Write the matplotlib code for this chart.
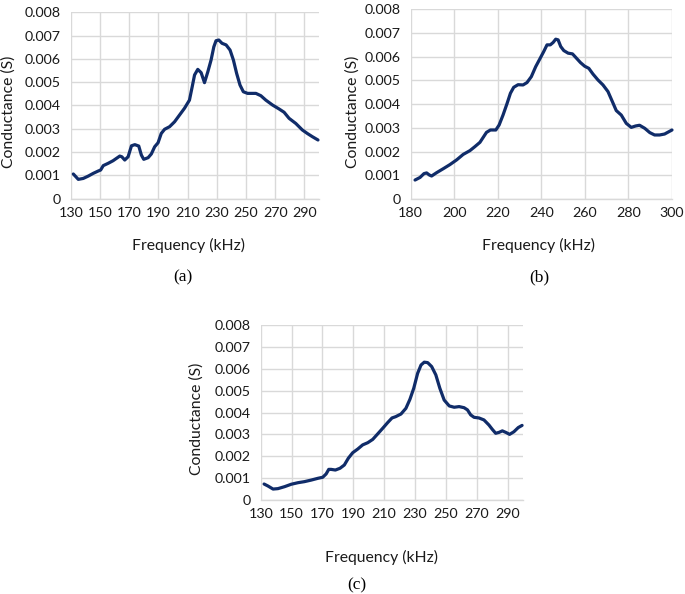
import matplotlib
matplotlib.use("Agg")
import matplotlib.pyplot as plt

# panel (a)
freq_a = [131.8, 135.2, 138.6, 142.0, 145.5, 148.9, 150.5, 152.3, 155.7, 159.0,
          163.6, 165.0, 167.0, 169.3, 171.6, 173.9, 176.6, 178.4, 180.0, 183.0,
          185.2, 187.5, 189.8, 192.0, 194.3, 197.7, 201.1, 204.5, 207.9, 211.3,
          213.2, 214.8, 217.0, 219.3, 221.6, 223.9, 226.1, 228.0, 229.5, 231.4,
          233.6, 236.4, 239.1, 241.4, 243.6, 245.9, 248.2, 251.1, 256.8, 260.2,
          263.6, 268.2, 272.7, 276.1, 279.5, 284.1, 288.6, 292.0, 295.5, 299.3]
cond_a = [1.06, 0.83, 0.87, 0.97, 1.09, 1.19, 1.23, 1.42, 1.52, 1.63,
          1.83, 1.80, 1.66, 1.80, 2.27, 2.32, 2.26, 1.87, 1.69, 1.76,
          1.92, 2.23, 2.40, 2.80, 2.98, 3.09, 3.30, 3.59, 3.88, 4.23,
          4.81, 5.31, 5.55, 5.41, 4.98, 5.45, 5.95, 6.52, 6.78, 6.81,
          6.67, 6.60, 6.38, 5.95, 5.38, 4.88, 4.59, 4.52, 4.52, 4.42,
          4.23, 4.02, 3.85, 3.71, 3.45, 3.23, 2.95, 2.80, 2.66, 2.52]

# panel (b)
freq_b = [182.0, 184.3, 186.1, 187.3, 188.6, 189.6, 191.9, 195.0, 198.0, 201.1,
          204.1, 207.2, 209.5, 211.8, 213.3, 214.8, 216.6, 219.1, 220.6, 222.4,
          224.3, 225.8, 227.3, 229.3, 231.6, 233.4, 235.4, 237.4, 239.2, 241.1,
          242.6, 244.1, 245.4, 246.6, 247.7, 248.9, 250.3, 252.3, 254.3, 256.1,
          258.0, 259.9, 261.8, 263.7, 266.0, 268.3, 270.6, 272.6, 274.4, 276.7,
          279.0, 281.3, 283.3, 285.1, 287.5, 289.8, 292.0, 294.3, 296.6, 300.0]
cond_b = [0.80, 0.91, 1.07, 1.10, 1.01, 0.97, 1.11, 1.28, 1.45, 1.65,
          1.88, 2.04, 2.21, 2.39, 2.60, 2.81, 2.91, 2.91, 3.12, 3.54,
          4.04, 4.46, 4.71, 4.82, 4.81, 4.91, 5.16, 5.58, 5.89, 6.22,
          6.50, 6.50, 6.60, 6.74, 6.71, 6.43, 6.26, 6.15, 6.12, 5.94,
          5.75, 5.60, 5.51, 5.27, 5.02, 4.81, 4.53, 4.11, 3.73, 3.54,
          3.19, 3.02, 3.08, 3.11, 2.98, 2.80, 2.70, 2.70, 2.74, 2.91]

# panel (c)
freq_c = [132.2, 134.7, 138.0, 141.2, 145.5, 149.8, 154.1, 158.4, 162.7, 167.0,
          170.2, 172.4, 174.1, 175.6, 178.4, 181.4, 184.2, 186.8, 189.6, 192.9,
          196.1, 199.4, 202.6, 205.8, 209.1, 212.3, 215.1, 217.5, 220.9, 224.1,
          226.7, 229.2, 231.7, 233.9, 236.0, 238.2, 240.8, 243.5, 246.1, 248.9,
          252.2, 255.4, 258.6, 261.8, 264.0, 266.1, 268.3, 271.5, 274.7, 277.9,
          280.1, 282.3, 284.4, 286.6, 289.2, 291.3, 294.1, 296.9, 299.4]
cond_c = [0.73, 0.64, 0.50, 0.52, 0.61, 0.72, 0.79, 0.84, 0.91, 0.99,
          1.04, 1.19, 1.40, 1.40, 1.37, 1.45, 1.60, 1.91, 2.16, 2.33,
          2.52, 2.62, 2.77, 3.02, 3.28, 3.54, 3.75, 3.81, 3.93, 4.19,
          4.60, 5.11, 5.79, 6.17, 6.30, 6.28, 6.10, 5.72, 5.11, 4.57,
          4.30, 4.24, 4.27, 4.22, 4.12, 3.89, 3.78, 3.75, 3.66, 3.43,
          3.23, 3.05, 3.09, 3.16, 3.08, 3.00, 3.12, 3.31, 3.41]

y_ticks = [0, 0.001, 0.002, 0.003, 0.004, 0.005, 0.006, 0.007, 0.008]
y_labels = ["0", "0.001", "0.002", "0.003", "0.004", "0.005", "0.006", "0.007", "0.008"]

W, H = 685, 594
line_color = "#102c69"
grid_color = "#d9d9d9"

plt.rcParams["font.family"] = ["Lato", "DejaVu Sans"]
fig = plt.figure(figsize=(W / 100, H / 100), dpi=100)


def px(x, y):
    return x / W, 1 - y / H


def make_panel(rect, freq, cond, xmin, xmax, ylab_xy, xlab_xy, cap, cap_xy):
    l, t, r, b = rect
    ax = fig.add_axes([l / W, 1 - b / H, (r - l) / W, (b - t) / H])
    ax.plot(freq, [c / 1000 for c in cond], color=line_color, lw=2.3,
            solid_joinstyle="round", solid_capstyle="round", clip_on=False, zorder=3)
    ax.set_xlim(xmin, 300)
    ax.set_ylim(0, 0.008)
    ax.set_xticks(list(range(xmin, xmax + 1, 20)))
    ax.set_yticks(y_ticks)
    ax.set_yticklabels(y_labels)
    ax.grid(True, color=grid_color, lw=1.0)
    ax.set_axisbelow(True)
    for s in ["top", "right", "left"]:
        ax.spines[s].set_visible(False)
    ax.spines["bottom"].set_color(grid_color)
    ax.spines["bottom"].set_linewidth(1.0)
    ax.tick_params(length=0, labelsize=10.3, labelcolor="#1a1a1a")
    ax.tick_params(axis="x", pad=6.0)
    ax.tick_params(axis="y", pad=7.0)
    fig.text(*px(*ylab_xy), "Conductance (S)", rotation=90, ha="center", va="center",
             fontsize=11.3, color="#1a1a1a")
    fig.text(*px(*xlab_xy), "Frequency (kHz)", ha="center", va="center", fontsize=11.3,
             color="#1a1a1a")
    fig.text(*px(*cap_xy), cap, ha="center", va="center", fontsize=12.5,
             family="Liberation Serif")
    return ax


make_panel((70.7, 12.3, 319, 198.7), freq_a, cond_a, 130, 290,
           (9, 112), (189, 245.7), "(a)", (182.7, 277))
make_panel((410.7, 9.3, 672, 199), freq_b, cond_b, 180, 300,
           (352.5, 112), (538, 245.7), "(b)", (539, 277))
make_panel((260.7, 325, 523, 500), freq_c, cond_c, 130, 290,
           (196.5, 419), (381.7, 557), "(c)", (356.7, 585))

fig.savefig("out.png", dpi=100)
